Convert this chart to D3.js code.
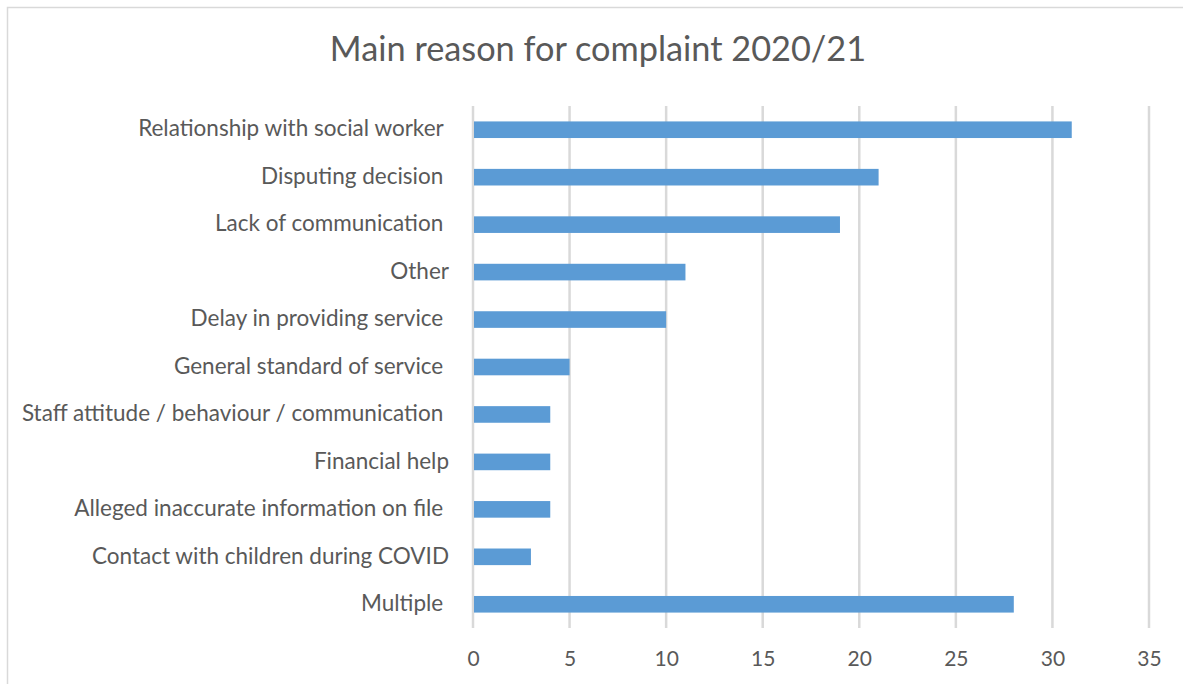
<!DOCTYPE html>
<html>
<head>
<meta charset="utf-8">
<title>Main reason for complaint 2020/21</title>
<script src="https://d3js.org/d3.v7.min.js"></script>
<style>
  body { margin: 0; background: #fff; }
  text { font-family: Lato, "Open Sans", sans-serif; fill: #595959; }
  .lbl { white-space: pre; }
</style>
</head>
<body>
<svg id="chart" width="1183" height="684"></svg>
<script>
// data (labels keep their trailing spaces)
var reasons = [
  "Relationship with social worker ",
  "Disputing decision ",
  "Lack of communication ",
  "Other",
  "Delay in providing service ",
  "General standard of service ",
  "Staff attitude / behaviour / communication ",
  "Financial help",
  "Alleged inaccurate information on file ",
  "Contact with children during COVID",
  "Multiple "
];
var counts = [31, 21, 19, 11, 10, 5, 4, 4, 4, 3, 28];
var xTicks = [0, 5, 10, 15, 20, 25, 30, 35];

var svg = d3.select("#chart");
var margin = { top: 106, right: 34, bottom: 56, left: 473 };
var width = +svg.attr("width") - margin.left - margin.right;
var height = +svg.attr("height") - margin.top - margin.bottom;

// chart frame
svg.append("rect")
  .attr("x", 7.5).attr("y", 7.5)
  .attr("width", 1200).attr("height", 700)
  .attr("fill", "none")
  .attr("stroke", "#d9d9d9")
  .attr("stroke-width", 1.5);

svg.append("text")
  .attr("x", 598).attr("y", 52)
  .attr("text-anchor", "middle")
  .attr("dominant-baseline", "middle")
  .style("font-size", "34.3px")
  .text("Main reason for complaint 2020/21");

var g = svg.append("g")
  .attr("transform", "translate(" + margin.left + "," + margin.top + ")");

var x = d3.scaleLinear().domain([0, 35]).range([0, width]);
var y = d3.scaleBand().domain(reasons).range([0, height]).paddingInner(0.65).paddingOuter(0.325);

// gridlines
g.append("g")
  .selectAll("line")
  .data(xTicks)
  .enter().append("line")
    .attr("x1", function(d) { return x(d); })
    .attr("x2", function(d) { return x(d); })
    .attr("y1", 0)
    .attr("y2", height)
    .attr("stroke", "#d9d9d9")
    .attr("stroke-width", 2.5);

// bars
g.append("g")
  .selectAll("rect")
  .data(reasons)
  .enter().append("rect")
    .attr("x", x(0) + 1)
    .attr("y", function(d) { return y(d); })
    .attr("width", function(d, i) { return x(counts[i]) - x(0) - 1; })
    .attr("height", y.bandwidth())
    .attr("fill", "#5b9bd5");

// category labels
var yAxis = g.append("g")
  .call(d3.axisLeft(y).tickSize(0).tickPadding(24));
yAxis.select(".domain").remove();
yAxis.selectAll("text")
  .attr("class", "lbl")
  .attr("dy", 1)
  .attr("dominant-baseline", "middle")
  .style("font-size", "22.5px")
  .attr("fill", null);

// value axis
var xAxis = g.append("g")
  .attr("transform", "translate(0," + height + ")")
  .call(d3.axisBottom(x).tickValues(xTicks).tickSize(0).tickPadding(23));
xAxis.select(".domain").remove();
xAxis.selectAll("text")
  .style("font-size", "21px")
  .attr("fill", null);
</script>
</body>
</html>
